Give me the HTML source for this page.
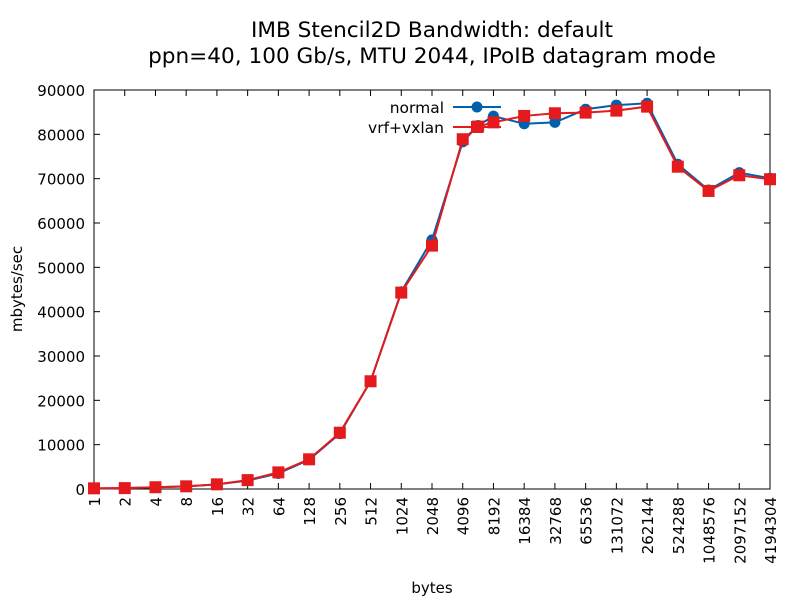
<!DOCTYPE html>
<html><head><meta charset="utf-8"><style>
body{margin:0;background:#fff}
svg{display:block;font-family:"DejaVu Sans","Liberation Sans",sans-serif}
</style></head><body>
<svg id="chart" width="800" height="600" viewBox="0 0 800 600">
<text x="432" y="37" font-size="21.6" text-anchor="middle">IMB Stencil2D Bandwidth: default</text>
<text x="432" y="63" font-size="21.6" text-anchor="middle">ppn=40, 100 Gb/s, MTU 2044, IPoIB datagram mode</text>
<text transform="translate(22,289) rotate(-90)" font-size="15" text-anchor="middle">mbytes/sec</text>
<text x="432" y="593" font-size="15" text-anchor="middle">bytes</text>
<g id="axes"></g><g id="series"></g>
<g>
<text x="444" y="113" font-size="15.5" text-anchor="end">normal</text>
<line x1="453" y1="107" x2="501" y2="107" stroke="#0060ad" stroke-width="2"/>
<circle cx="477" cy="107" r="5.5" fill="#0060ad"/>
<text x="444" y="133" font-size="15.5" text-anchor="end">vrf+vxlan</text>
<line x1="453" y1="127" x2="501" y2="127" stroke="#e41a1c" stroke-width="2"/>
<rect x="471" y="121" width="12" height="12" fill="#e41a1c"/>
</g>
</svg>
<script>
const xLabels=["1","2","4","8","16","32","64","128","256","512","1024","2048","4096","8192","16384","32768","65536","131072","262144","524288","1048576","2097152","4194304"];
const yTicks=[0,10000,20000,30000,40000,50000,60000,70000,80000,90000];
const normalIdx=[0,1,2,3,4,5,6,7,8,9,10,11,12,12.5,13,14,15,16,17,18,19,20,21,22];
const normalVals=[150,200,400,600,1050,1900,3500,6600,12500,24300,44500,56200,78300,82000,84100,82400,82700,85650,86600,87000,73250,67450,71350,70100];
const vrfIdx=[0,1,2,3,4,5,6,7,8,9,10,11,12,12.5,13,14,15,16,17,18,19,20,21,22];
const vrfVals=[150,200,400,600,1050,2000,3750,6700,12700,24300,44300,54900,78900,81750,82700,84150,84750,84900,85350,86250,72700,67230,70770,69870];
const L=94,R=770,T=90,B=489,NS="http://www.w3.org/2000/svg";
const xs=i=>L+i*(R-L)/(xLabels.length-1);
const ys=v=>B-v*(B-T)/90000;
function mk(t,a,p){const e=document.createElementNS(NS,t);for(const k in a)e.setAttribute(k,a[k]);p.appendChild(e);return e;}
const ax=document.getElementById('axes'),se=document.getElementById('series');
const frame=mk('rect',{x:L,y:T,width:R-L,height:B-T,fill:'none',stroke:'#000','stroke-width':1},ax);


yTicks.forEach(v=>{const y=ys(v);
mk('line',{x1:L,y1:y,x2:L+6,y2:y,stroke:'#000'},ax);
mk('line',{x1:R,y1:y,x2:R-6,y2:y,stroke:'#000'},ax);
const t=mk('text',{x:L-9,y:y+6,'font-size':15,'text-anchor':'end'},ax);t.textContent=v;

});
xLabels.forEach((s,i)=>{const x=xs(i);
mk('line',{x1:x,y1:B,x2:x,y2:B-6,stroke:'#000'},ax);
mk('line',{x1:x,y1:T,x2:x,y2:T+6,stroke:'#000'},ax);
const t=mk('text',{transform:`translate(${x+6},${B+8}) rotate(-90)`,'font-size':15,'text-anchor':'end'},ax);t.textContent=s;

});
function series(idx,vals,col,name,sq){
const p=mk('polyline',{points:idx.map((i,k)=>xs(i)+','+ys(vals[k])).join(' '),fill:'none',stroke:col,'stroke-width':2},se);


idx.forEach((i,k)=>{const x=xs(i),y=ys(vals[k]);let m;
if(sq)m=mk('rect',{x:x-6,y:y-6,width:12,height:12,fill:col},se);
else m=mk('circle',{cx:x,cy:y,r:5.5,fill:col},se);

});}
series(normalIdx,normalVals,'#0060ad','normal',false);
series(vrfIdx,vrfVals,'#e41a1c','vrf-vxlan',true);
</script>
</body></html>
